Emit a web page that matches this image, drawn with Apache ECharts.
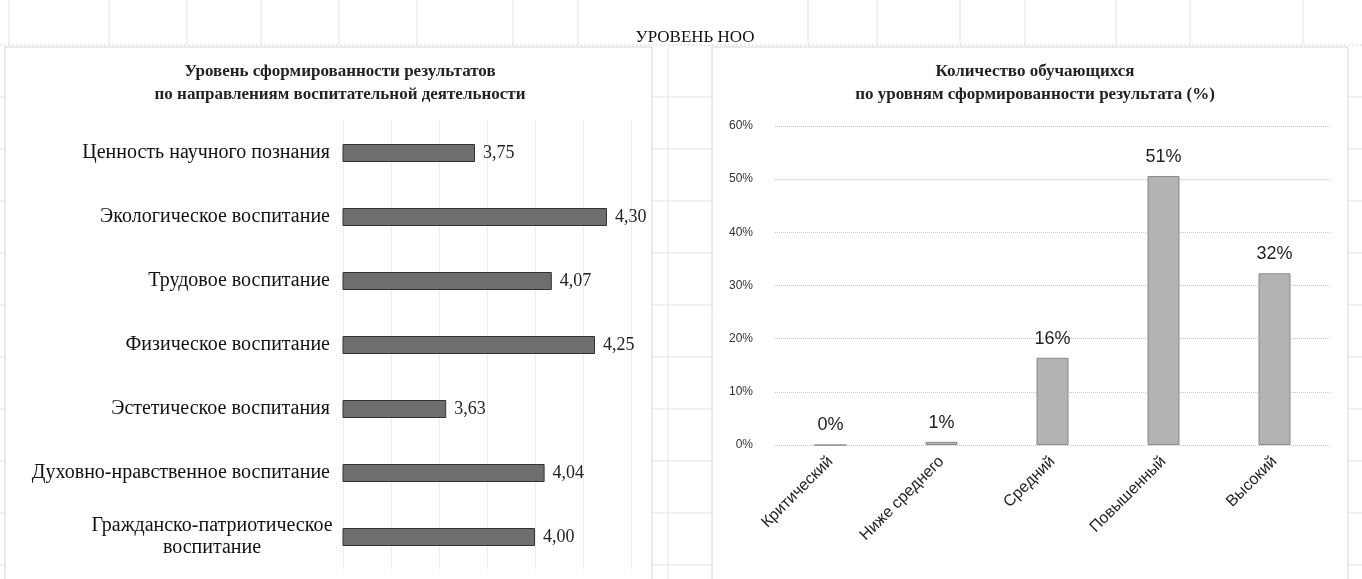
<!DOCTYPE html>
<html><head><meta charset="utf-8">
<script src="https://cdn.jsdelivr.net/npm/echarts@6/dist/echarts.min.js"></script>
<style>html,body{margin:0;padding:0;background:#fff}#c{width:1362px;height:579px}</style>
</head><body><div id="c"></div>
<script>
// Left chart: average level per direction
const directions = [
  'Ценность научного познания',
  'Экологическое воспитание',
  'Трудовое воспитание',
  'Физическое воспитание',
  'Эстетическое воспитания',
  'Духовно-нравственное воспитание',
  'Гражданско-патриотическое\nвоспитание'
];
const directionScores = [3.75, 4.30, 4.07, 4.25, 3.63, 4.04, 4.00];

// Right chart: share of students per level (%)
const levels = ['Критический', 'Ниже среднего', 'Средний', 'Повышенный', 'Высокий'];
const levelShares = [0, 0.6, 16.4, 50.6, 32.3];
const shareTicks = [0, 10, 20, 30, 40, 50, 60];

const mainTitle = 'УРОВЕНЬ НОО';
const leftTitle = 'Уровень сформированности результатов\nпо направлениям воспитательной деятельности';
const rightTitle = 'Количество обучающихся\nпо уровням сформированности результата (%)';

const serif = '"Liberation Serif", "DejaVu Serif", serif';
const narrow = '"Liberation Sans Narrow", "Liberation Sans", sans-serif';

// decorative spreadsheet cell lines
const deco = [];
const topCols = [9, 109, 187, 261, 339, 417, 513, 578, 808, 877, 960, 1025, 1116, 1190, 1303];
topCols.forEach(x => deco.push({type:'line', shape:{x1:x,y1:0,x2:x,y2:45}, style:{stroke:'#e3e3e3', lineWidth:1}, silent:true}));
deco.push({type:'line', shape:{x1:0,y1:45,x2:1362,y2:45}, style:{stroke:'#d8d8d8', lineWidth:1, lineDash:[2,2]}, silent:true});
for (let y = 97; y < 579; y += 52) {
  deco.push({type:'line', shape:{x1:652,y1:y,x2:712,y2:y}, style:{stroke:'#e3e3e3', lineWidth:1}, silent:true});
  deco.push({type:'line', shape:{x1:1348,y1:y,x2:1362,y2:y}, style:{stroke:'#e3e3e3', lineWidth:1}, silent:true});
  deco.push({type:'line', shape:{x1:0,y1:y,x2:5,y2:y}, style:{stroke:'#e3e3e3', lineWidth:1}, silent:true});
}
deco.push({type:'line', shape:{x1:668,y1:45,x2:668,y2:579}, style:{stroke:'#e6e6e6', lineWidth:1}, silent:true});
// chart frames
deco.push({type:'rect', shape:{x:5,y:47,width:647,height:540}, style:{fill:'#fff', stroke:'#d6d6d6', lineWidth:1}, z:-1, silent:true});
deco.push({type:'rect', shape:{x:712,y:47,width:636,height:540}, style:{fill:'#fff', stroke:'#d6d6d6', lineWidth:1}, z:-1, silent:true});

const chart = echarts.init(document.getElementById('c'), null, {renderer:'canvas'});
chart.setOption({
  backgroundColor:'#fff',
  animation:false,
  graphic: deco,
  title: [
    {text: mainTitle, left: 690, top: 24, textAlign:'center',
     textStyle:{fontFamily:serif, fontSize:17, fontWeight:'normal', color:'#111'}},
    {text: leftTitle, left: 335, top: 55, textAlign:'center',
     textStyle:{fontFamily:serif, fontSize:17, fontWeight:'bold', color:'#222', lineHeight:23, align:'center'}},
    {text: rightTitle, left: 1030, top: 55, textAlign:'center',
     textStyle:{fontFamily:serif, fontSize:17, fontWeight:'bold', color:'#222', lineHeight:23, align:'center'}}
  ],
  grid: [
    {left: 343, width: 288, top: 121, height: 448, containLabel:false},
    {left: 775, width: 555, top: 126, height: 319, containLabel:false}
  ],
  xAxis: [
    {gridIndex:0, type:'value', min:3.2, max:4.4, interval:0.2,
     axisLabel:{show:false}, axisLine:{show:false}, axisTick:{show:false},
     splitLine:{show:true, lineStyle:{color:'#ececec', width:1}}},
    {gridIndex:1, type:'category', data: levels,
     axisLine:{show:false}, axisTick:{show:false},
     axisLabel:{rotate:45, fontFamily:narrow, fontSize:16, color:'#222', margin:14, interval:0}}
  ],
  yAxis: [
    {gridIndex:0, type:'category', data: directions, inverse:true,
     axisLine:{show:false}, axisTick:{show:false},
     axisLabel:{fontFamily:serif, fontSize:20, color:'#111', margin:13, lineHeight:22,
       formatter: v => v.indexOf('\n') >= 0 ? '{c|' + v + '}' : v,
       rich:{c:{fontFamily:serif, fontSize:20, color:'#111', lineHeight:22, width:236, align:'center'}}}},
    {gridIndex:1, type:'value', min:shareTicks[0], max:shareTicks[shareTicks.length-1], interval:10,
     axisLine:{show:false}, axisTick:{show:false},
     axisLabel:{formatter:'{value}%', fontFamily:narrow, fontSize:12, color:'#333', margin:22},
     splitLine:{show:true, lineStyle:{color:'#c4c4c4', type:'dotted', width:1}}}
  ],
  series: [
    {type:'bar', xAxisIndex:0, yAxisIndex:0, data: directionScores, barWidth:18,
     itemStyle:{color:'#6e6e6e', borderColor:'#333333', borderWidth:1},
     label:{show:true, position:'right', distance:8, fontFamily:serif, fontSize:18, color:'#222',
       formatter: p => p.value.toFixed(2).replace('.', ',')}},
    {type:'bar', xAxisIndex:1, yAxisIndex:1, data: levelShares, barWidth:32,
     itemStyle:{color:'#b3b3b3', borderColor:'#8a8a8a', borderWidth:1},
     label:{show:true, position:'top', distance:10, fontFamily:narrow, fontSize:18, color:'#222',
       formatter: p => Math.round(p.value) + '%'}}
  ]
});
</script></body></html>
